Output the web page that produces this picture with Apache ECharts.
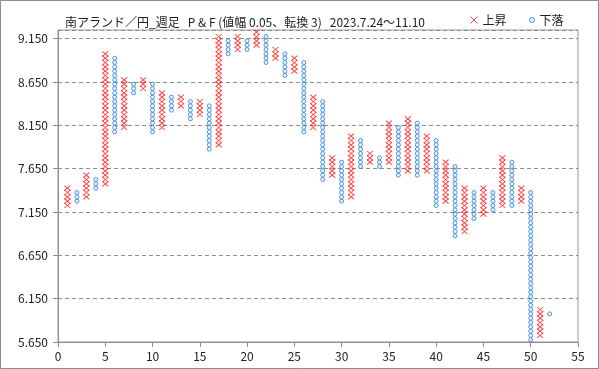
<!DOCTYPE html>
<html>
<head>
<meta charset="utf-8">
<script src="https://cdn.jsdelivr.net/npm/echarts@6/dist/echarts.min.js"></script>
<style>
html,body{margin:0;padding:0;background:#fff;}
#c{width:599px;height:369px;}
</style>
</head>
<body>
<div id="c"></div>
<script>
// Point & Figure columns (box centre prices, box size 0.05), column type alternates X / O
const boxSize = 0.05;
const colType = ['X','O','X','O','X','O','X','O','X','O','X','O','X','O','X','O','X','O','X','O','X','O','X','O','X','O',
                 'X','O','X','O','X','O','X','O','X','O','X','O','X','O','X','O','X','O','X','O','X','O','X','O','X','O'];
const colLow = [7.225,7.275,7.325,7.425,7.475,8.075,8.125,8.525,8.575,8.075,8.125,8.325,8.375,8.225,8.275,7.875,7.925,8.975,9.025,9.025,
                9.075,8.875,8.925,8.725,8.775,8.075,8.125,7.525,7.575,7.275,7.325,7.675,7.725,7.675,7.725,7.575,7.625,7.575,7.625,7.225,
                7.275,6.875,6.925,7.075,7.125,7.175,7.225,7.225,7.275,5.675,5.725,5.975];
const colHigh = [7.425,7.375,7.575,7.525,8.975,8.925,8.675,8.625,8.675,8.625,8.525,8.475,8.475,8.425,8.425,8.375,9.175,9.125,9.175,9.125,
                 9.225,9.175,9.025,8.975,8.925,8.875,8.475,8.425,7.775,7.725,8.025,7.975,7.825,7.775,8.175,8.125,8.225,8.175,8.025,7.975,
                 7.725,7.675,7.425,7.375,7.425,7.375,7.775,7.725,7.425,7.375,6.025,5.975];
const xTicks = [0,5,10,15,20,25,30,35,40,45,50,55];
const yTicks = ['5.650','6.150','6.650','7.150','7.650','8.150','8.650','9.150'];
const titleMain = '南アランド／円_週足';
const titleSub = 'P & F (値幅 0.05、転換 3)';
const titleDate = '2023.7.24～11.10';
const legendUp = '上昇', legendDown = '下落';

const upPts = [], downPts = [];
colLow.forEach((lo, i) => {
  const n = Math.round((colHigh[i] - lo) / boxSize);
  for (let j = 0; j <= n; j++) {
    const v = +(lo + j * boxSize).toFixed(3);
    (colType[i] === 'X' ? upPts : downPts).push([i + 1, v]);
  }
});

const xPath = 'path://M0,0L10,10M10,0L0,10';
const FONT = '"Noto Sans CJK JP","Noto Sans",sans-serif';
const upStyle = {color:'transparent', borderColor:'#ff2020', borderWidth:1};
const downStyle = {color:'#e6f0fa', borderColor:'#2b7fd4', borderWidth:1};
const chart = echarts.init(document.getElementById('c'), null, {renderer:'canvas'});
chart.setOption({
  animation:false,
  backgroundColor:'#fff',
  textStyle:{fontFamily:FONT},
  title:{
    left:60, top:8,
    text:'{a|' + titleMain + '}  {b|' + titleSub + '}  {b|' + titleDate + '}',
    textStyle:{fontWeight:'normal', rich:{
      a:{fontSize:12, color:'#222', fontFamily:FONT, fontWeight:'normal'},
      b:{fontSize:12, color:'#222', fontFamily:FONT, fontWeight:'normal'}
    }}
  },
  legend:[
    {left:465, top:9, itemWidth:7, itemHeight:7, itemGap:10,
     textStyle:{fontSize:12, color:'#222', fontFamily:FONT},
     data:[{name:legendUp, icon:xPath, itemStyle:upStyle}]},
    {left:524, top:9, itemWidth:5, itemHeight:5, itemGap:10,
     textStyle:{fontSize:12, color:'#222', fontFamily:FONT},
     data:[{name:legendDown, icon:'circle', itemStyle:downStyle}]}
  ],
  graphic:[{type:'rect', shape:{x:0.5,y:0.5,width:598,height:368}, style:{fill:'none', stroke:'#8c8c8c', lineWidth:1}, silent:true, z:-1}],
  grid:{left:58, right:21, top:30, bottom:27, show:true, borderColor:'#9a9a9a', borderWidth:1},
  xAxis:{
    type:'value', min:xTicks[0], max:xTicks[xTicks.length-1], interval:5,
    axisLine:{show:true, lineStyle:{color:'#8c8c8c'}},
    axisTick:{show:true, inside:false, length:5, lineStyle:{color:'#8c8c8c'}},
    axisLabel:{fontSize:12, color:'#222', margin:8, fontFamily:FONT},
    splitLine:{show:false}
  },
  yAxis:{
    type:'value', min:+yTicks[0], max:9.25, interval:0.5,
    axisLine:{show:true, lineStyle:{color:'#8c8c8c'}},
    axisTick:{show:true, inside:false, length:5, lineStyle:{color:'#8c8c8c'}},
    axisLabel:{fontSize:12, color:'#222', margin:10, showMaxLabel:false, fontFamily:FONT,
      formatter:v => { const s = v.toFixed(3); return yTicks.indexOf(s) >= 0 ? s : ''; }},
    splitLine:{show:true, lineStyle:{color:'#8c8c8c', type:[4,3], width:1}}
  },
  series:[
    {name:legendUp, type:'scatter', data:upPts, symbol:xPath, symbolSize:[6,5], itemStyle:upStyle},
    {name:legendDown, type:'scatter', data:downPts, symbol:'circle', symbolSize:4, itemStyle:downStyle}
  ]
});
</script>
</body>
</html>
